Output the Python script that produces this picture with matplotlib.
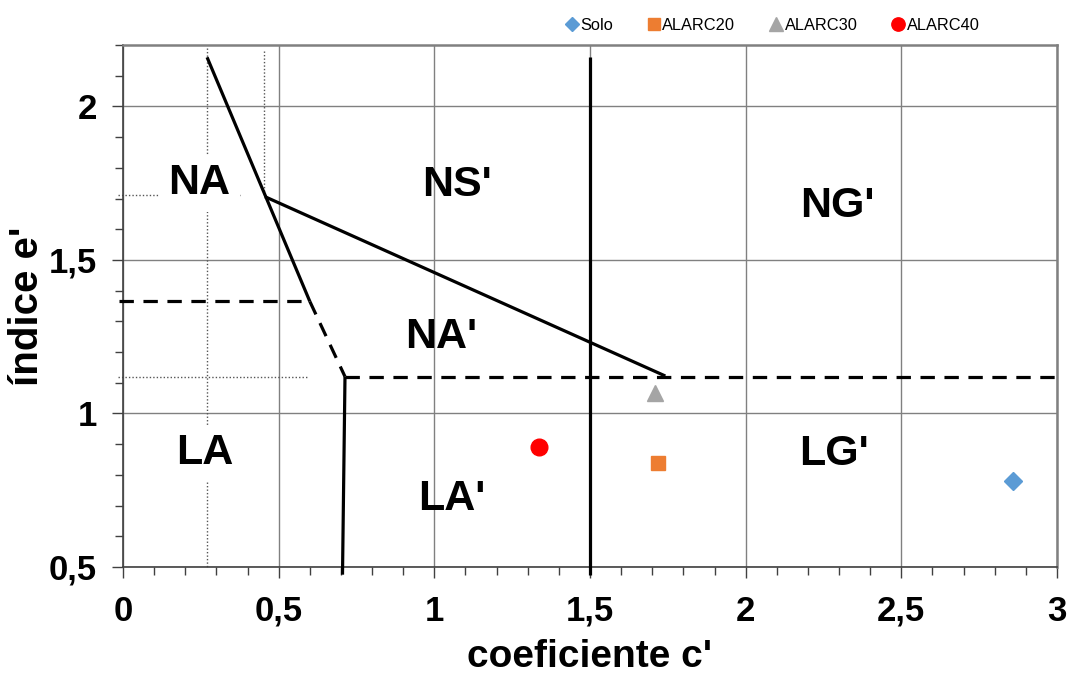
#!/usr/bin/env python3
"""
Classificacao MCT: indice e' x coeficiente c' com as amostras Solo e ALARC
"""
import matplotlib
matplotlib.use("Agg")
import matplotlib.pyplot as plt
from matplotlib.ticker import MultipleLocator, FuncFormatter

plt.rcParams['font.family'] = ['Liberation Sans', 'DejaVu Sans']

# amostras
samples = ["Solo", "ALARC20", "ALARC30", "ALARC40"]
c_vals = [2.86, 1.72, 1.71, 1.335]
e_vals = [0.78, 0.84, 1.067, 0.89]
markers = ["D", "s", "^", "o"]
colors = ["#5B9BD5", "#ED7D31", "#A5A5A5", "#FF0000"]
msizes = [9, 10, 12, 12]

# fronteiras do abaco (c', e')
solid_lines = [
    ([0.27, 0.60], [2.16, 1.365]),
    ([0.456, 1.742], [1.706, 1.122]),
    ([1.5, 1.5], [2.16, 0.475]),
    ([0.713, 0.705], [1.12, 0.475]),
]
dashed_lines = [
    ([-0.013, 0.60], [1.365, 1.365]),
    ([0.60, 0.713], [1.365, 1.12]),
    ([0.713, 3.0], [1.12, 1.12]),
]
dotted_lines = [
    ([0.27, 0.27], [2.19, 0.5]),
    ([0.453, 0.453], [2.18, 1.71]),
    ([-0.016, 0.376], [1.713, 1.713]),
    ([-0.016, 0.595], [1.12, 1.12]),
]

# rotulos das classes
regions = ["NA", "NS'", "NG'", "NA'", "LA", "LA'", "LG'"]
reg_x = [0.244, 1.073, 2.294, 1.021, 0.263, 1.057, 2.284]
reg_y = [1.749, 1.745, 1.675, 1.25, 0.872, 0.72, 0.868]
reg_box = [True, False, False, False, True, False, False]


def comma(v, pos):
    return f"{v:g}".replace(".", ",")


def main():
    fig = plt.figure(figsize=(10.67, 6.77), dpi=100)
    ax = fig.add_axes([0.1153, 0.1625, 0.8753, 0.771])
    ax.set_xlim(0, 3)
    ax.set_ylim(0.5, 2.2)

    ax.xaxis.set_major_locator(MultipleLocator(0.5))
    ax.xaxis.set_minor_locator(MultipleLocator(0.1))
    ax.yaxis.set_major_locator(MultipleLocator(0.5))
    ax.yaxis.set_minor_locator(MultipleLocator(0.1))
    ax.xaxis.set_major_formatter(FuncFormatter(comma))
    ax.yaxis.set_major_formatter(FuncFormatter(comma))
    ax.grid(True, which="major", color="#808080", lw=1.0, zorder=0)
    ax.set_axisbelow(True)

    ax.tick_params(which="major", direction="out", length=8, width=1.0,
                   color="#404040", labelsize=25)
    ax.tick_params(which="minor", direction="out", length=6, width=1.0,
                   color="#404040")
    ax.tick_params(axis="y", which="major", pad=11)
    ax.tick_params(axis="x", which="major", pad=12)
    for lbl in ax.get_xticklabels() + ax.get_yticklabels():
        lbl.set_fontweight("bold")

    for side in ["top", "right"]:
        ax.spines[side].set_color("#808080")
        ax.spines[side].set_linewidth(1.8)
    for side in ["left", "bottom"]:
        ax.spines[side].set_color("#404040")
        ax.spines[side].set_linewidth(1.2)

    for xs, ys in dotted_lines:
        ax.plot(xs, ys, color="#555555", lw=1.0, ls=(0, (1, 1.5)),
                clip_on=False, zorder=2)
    for xs, ys in solid_lines:
        ax.plot(xs, ys, color="black", lw=2.3, solid_capstyle="butt",
                clip_on=False, zorder=3)
    for xs, ys in dashed_lines:
        ax.plot(xs, ys, color="black", lw=2.3, dashes=(4.5, 3.0),
                clip_on=False, zorder=3)

    for name, x, y, box in zip(regions, reg_x, reg_y, reg_box):
        bbox = dict(facecolor="white", edgecolor="none", pad=6) if box else None
        ax.text(x, y, name, fontsize=31, fontweight="bold",
                ha="center", va="center", bbox=bbox, zorder=4)

    for name, x, y, m, c, ms in zip(samples, c_vals, e_vals, markers,
                                    colors, msizes):
        ax.plot([x], [y], ls="none", marker=m, color=c, ms=ms,
                mec=c, label=name, zorder=5)

    ax.set_xlabel("coeficiente c'", fontsize=28, fontweight="bold", labelpad=8)
    ax.set_ylabel("índice e'", fontsize=29, fontweight="bold")
    ax.yaxis.set_label_coords(-0.083, 0.5)

    handles, labels = ax.get_legend_handles_labels()
    fig.legend(handles, labels, loc="center", ncol=4, frameon=False,
               bbox_to_anchor=(0.724, 0.963), fontsize=11.8,
               handlelength=0.8, handletextpad=0.1, columnspacing=2.1,
               markerscale=0.8)

    fig.savefig("out.png", dpi=100)


if __name__ == '__main__':
    main()
